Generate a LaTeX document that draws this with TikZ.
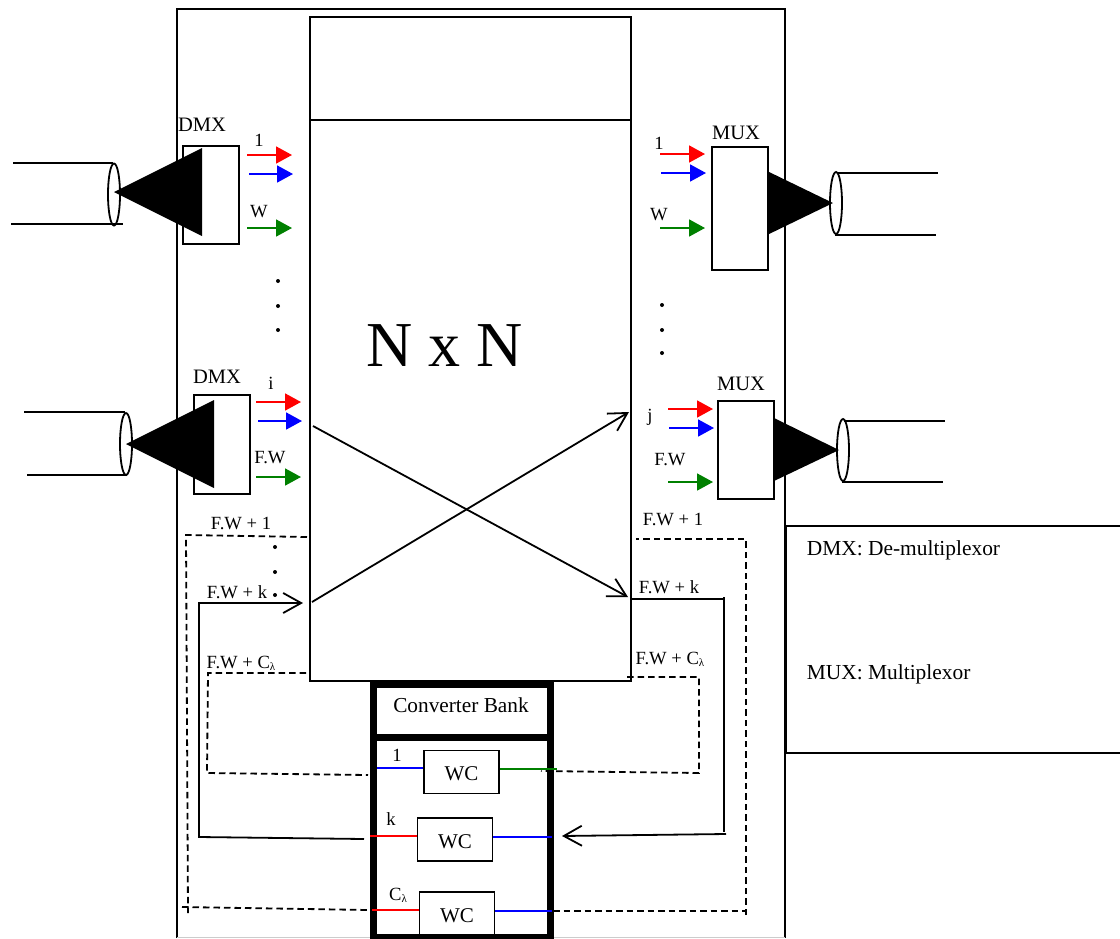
\documentclass[tikz,border=0pt]{standalone}
\usepackage{fontspec}
\setmainfont{Liberation Serif}
\usetikzlibrary{arrows.meta,shapes.geometric}
\newcommand{\lam}{{\fontsize{11}{11}\selectfont\raisebox{-2pt}{λ}}}
\tikzset{
    port/.style={draw, minimum width=56pt, inner sep=0pt},
    wc/.style={draw, minimum width=75pt, minimum height=43pt, inner sep=0pt, text height=17.5pt, font=\fontsize{21}{21}\selectfont},
    fibre/.style={draw, ellipse, minimum width=12pt, minimum height=62pt, inner sep=0pt},
    lbl/.style={inner sep=0pt, yshift=-1pt, font=\fontsize{18.6}{18.6}\selectfont},
    head/.style={inner sep=0pt, yshift=-1pt, font=\fontsize{20.5}{20.5}\selectfont},
    legend/.style={inner sep=0pt, anchor=west, font=\fontsize{21.4}{21.4}\selectfont},
    feed/.style={-{Triangle[length=16pt,width=17pt]}},
    openarrow/.style={-{Straight Barb[length=18pt,width=20pt]}},
    fwdash/.style={dash pattern=on 6.5pt off 4pt},
    bank/.style={line width=7pt}
}
\begin{document}
\begin{tikzpicture}[x=1pt,y=-1pt,line width=1.8pt]
    \useasboundingbox (0,0) rectangle (1120,938);
    \draw (177,938) -- (177,9) -- (785,9) -- (785,938);
    \draw[gray!40] (177,937.5) -- (785,937.5);
    % switch
    \node[draw, minimum width=321pt, minimum height=103pt, inner sep=0pt] (top) at (470.5,68.5) {};
    \node[draw, minimum width=321pt, minimum height=561pt, inner sep=0pt] (switch) at (470.5,400.5) {};
    \node[inner sep=0pt, font=\fontsize{64}{64}\selectfont] (nxn) at (444.5,346) {N x N};
    % demux and mux boxes
    \node[port, minimum height=98pt] (dmxa) at (211,195) {};
    \node[port, minimum height=99pt] (dmxb) at (222,444.5) {};
    \node[port, minimum height=123pt] (muxa) at (740,208.5) {};
    \node[port, minimum height=98pt] (muxb) at (746,450) {};
    \node[head] (dmxalbl) at (202,124) {DMX};
    \node[head] (dmxblbl) at (217,376) {DMX};
    \node[head] (muxalbl) at (736,132) {MUX};
    \node[head] (muxblbl) at (741,383) {MUX};
    % fibres
    \node[fibre] (fibrea) at (114,194.5) {};
    \node[fibre] (fibreb) at (126,444) {};
    \node[fibre] (fibrec) at (836,203) {};
    \node[fibre] (fibred) at (843,450) {};
    \foreach \n/\xa/\xb/\y in {ca/13/113/163, cb/11/123/224, cc/24/125/412, cd/27/127/475,
                               ce/837/938/173, cf/835/936/235, cg/844/945/421, ch/842/943/482} {
        \coordinate (\n l) at (\xa,\y);
        \coordinate (\n r) at (\xb,\y);
        \draw (\n l) -- (\n r);
    }
    \fill (114,192) -- (202,148) -- (202,236) -- cycle;
    \fill (126,444) -- (214,400) -- (214,488) -- cycle;
    \fill (767,171) -- (767,235) -- (833,203) -- cycle;
    \fill (774,418) -- (774,481) -- (839,450) -- cycle;
    % wavelength arrows
    \foreach \n/\col/\xa/\xb/\y in {da/red/247/292/155, db/blue/249/293/174, dc/green!50!black/247/292/228,
                                    dd/red/256/301/402, de/blue/258/302/421, df/green!50!black/256/301/477,
                                    ma/red/660/705/154, mb/blue/661/706/173, mc/green!50!black/660/705/228,
                                    md/red/668/713/409, me/blue/669/714/428, mf/green!50!black/668/713/482} {
        \coordinate (\n s) at (\xa,\y);
        \coordinate (\n e) at (\xb,\y);
        \draw[feed, \col] (\n s) -- (\n e);
    }
    \node[lbl] (la) at (259,139) {1};
    \node[lbl] (lb) at (259,211) {W};
    \node[lbl] (lc) at (271,382) {i};
    \node[lbl] (ld) at (270,457) {F.W};
    \node[lbl] (le) at (659,142) {1};
    \node[lbl] (lf) at (659,214) {W};
    \node[lbl] (lg) at (650,416) {j};
    \node[lbl] (lh) at (670,459) {F.W};
    % dots
    \foreach \x/\y in {278/281, 278/306, 278/330, 662/305, 662/330, 662/353, 275/547, 275/572, 275/595}
        \fill (\x,\y) circle (2);
    % crossing
    \coordinate (xa) at (313,426);
    \coordinate (xb) at (628,597);
    \coordinate (xc) at (312,602);
    \coordinate (xd) at (629,412);
    \draw[openarrow] (xa) -- (xb);
    \draw[openarrow] (xc) -- (xd);
    % converter bank
    \coordinate (bl) at (373.5,684.5);
    \coordinate (br) at (550,684.5);
    \coordinate (ml) at (373.5,737);
    \coordinate (mr) at (550,737);
    \coordinate (el) at (373.5,937);
    \coordinate (er) at (550,937);
    \draw[bank] (bl) -- (br) -- (er) -- (el) -- cycle;
    \draw[bank] (ml) -- (mr);
    \node[inner sep=0pt, font=\fontsize{21.3}{21.3}\selectfont] (bank) at (461,705) {Converter Bank};
    \node[wc] (wca) at (461.5,772) {WC};
    \node[wc] (wcb) at (455,839.5) {WC};
    \node[wc] (wcc) at (457,913.5) {WC};
    \coordinate (wa) at (377,768);
    \coordinate (wb) at (557,769);
    \coordinate (wc) at (370,836);
    \coordinate (wd) at (552,837);
    \coordinate (we) at (372,910);
    \coordinate (wf) at (552,911);
    \draw[blue] (wa) -- (wca.west |- wa);
    \draw[green!50!black] (wca.east |- wb) -- (wb);
    \draw[red] (wc) -- (wcb.west |- wc);
    \draw[blue] (wcb.east |- wd) -- (wd);
    \draw[red] (we) -- (wcc.west |- we);
    \draw[blue] (wcc.east |- wf) -- (wf);
    \node[lbl] (wl) at (397,754) {1};
    \node[lbl] (wm) at (391,818) {k};
    \node[lbl] (wn) at (398,894) {C\lam};
    % feedback wavelengths
    \foreach \n/\x/\y in {pa/307/537, pb/186/535, pc/188/913, pd/182/907, pe/368/910,
                          pf/553/911, pg/747/911, ph/746/915, pi/746/539, pj/636/539,
                          qa/306/673, qb/208/673, qc/207/773, qd/368/775,
                          qe/627/677, qf/699/677, qg/699/773, qh/541/771,
                          ra/364/839, rb/199/837, rc/199/603, rd/303/603,
                          re/631/599, rf/723/599, rg/724/597, rh/724/832, ri/726/834, rj/562/836}
        \coordinate (\n) at (\x,\y);
    \draw[fwdash] (pa) -- (pb) -- (pc);
    \draw[fwdash] (pd) -- (pe);
    \draw[fwdash] (pf) -- (pg);
    \draw[fwdash] (ph) -- (pi) -- (pj);
    \draw[fwdash] (qa) -- (qb) -- (qc) -- (qd);
    \draw[fwdash] (qe) -- (qf) -- (qg) -- (qh);
    \draw[openarrow] (ra) -- (rb) -- (rc) -- (rd);
    \draw (re) -- (rf);
    \draw (rg) -- (rh);
    \draw[openarrow] (ri) -- (rj);
    \node[lbl] (fa) at (241,522) {F.W + 1};
    \node[lbl] (fb) at (237,591) {F.W + k};
    \node[lbl] (fc) at (241,662) {F.W + C\lam};
    \node[lbl] (fd) at (673,518) {F.W + 1};
    \node[lbl] (fe) at (669,586) {F.W + k};
    \node[lbl] (ff) at (670,658) {F.W + C\lam};
    % legend
    \draw (1120,526) -- (786,526) -- (786,753) -- (1120,753);
    \node[legend] (lega) at (806,550.5) {DMX: De-multiplexor};
    \node[legend] (legb) at (806,674.5) {MUX: Multiplexor};
\end{tikzpicture}
\end{document}
